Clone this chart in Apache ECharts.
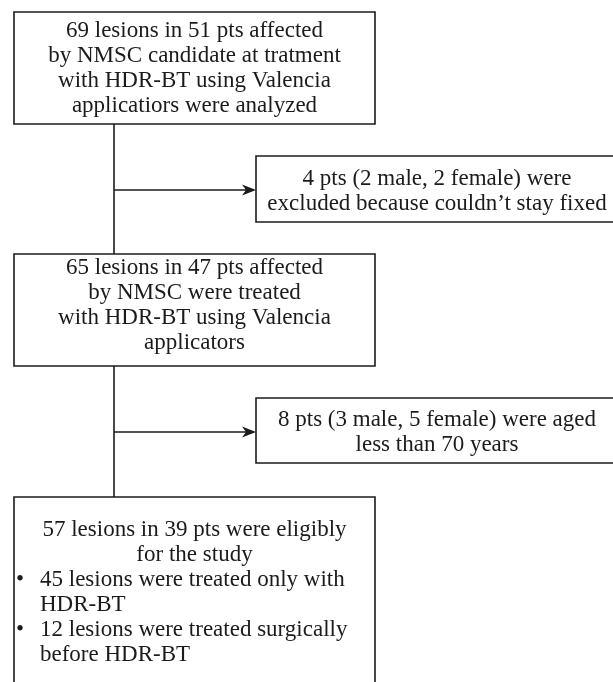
<!DOCTYPE html>
<html>
<head>
<meta charset="utf-8">
<script src="https://cdn.jsdelivr.net/npm/echarts@6/dist/echarts.min.js"></script>
<style>
  html, body { margin: 0; padding: 0; background: #fff; }
  #chart { width: 613px; height: 682px; }
</style>
</head>
<body>
<div id="chart"></div>
<script>
// texts of the flow boxes
const startLines = ['69 lesions in 51 pts affected', 'by NMSC candidate at tratment', 'with HDR-BT using Valencia', 'applicatiors were analyzed'];
const excludedFixLines = ['4 pts (2 male, 2 female) were', 'excluded because couldn\u2019t stay fixed'];
const treatedLines = ['65 lesions in 47 pts affected', 'by NMSC were treated', 'with HDR-BT using Valencia', 'applicators'];
const excludedAgeLines = ['8 pts (3 male, 5 female) were aged', 'less than 70 years'];
const eligibleLines = ['57 lesions in 39 pts were eligibly', 'for the study'];
const eligibleBullets = [
  ['45 lesions were treated only with', 'HDR-BT'],
  ['12 lesions were treated surgically', 'before HDR-BT']
];

const FONT = '23px "Liberation Serif", "DejaVu Serif", serif';
const INK = '#1b1b1b';
const LH = 25;      // line spacing
const MID = 7.5;    // baseline -> middle offset

var chart = echarts.init(document.getElementById('chart'));
var els = [];

function box(x, y, w, h) {
  els.push({
    type: 'rect',
    shape: { x: x, y: y, width: w, height: h },
    style: { fill: '#fff', stroke: INK, lineWidth: 1.6 }
  });
}
function textLine(str, x, baseline, align) {
  els.push({
    type: 'text',
    x: x, y: baseline - MID,
    style: {
      text: str, font: FONT, fill: INK,
      align: align, verticalAlign: 'middle',
      textAlign: align, textVerticalAlign: 'middle'
    }
  });
}
function centered(lines, cx, firstBaseline) {
  lines.forEach(function (s, i) { textLine(s, cx, firstBaseline + i * LH, 'center'); });
}
function vline(x, y1, y2) {
  els.push({ type: 'line', shape: { x1: x, y1: y1, x2: x, y2: y2 }, style: { stroke: INK, lineWidth: 1.6 } });
}
function arrow(x1, x2, y) {
  els.push({ type: 'line', shape: { x1: x1, y1: y, x2: x2 - 6, y2: y }, style: { stroke: INK, lineWidth: 1.6 } });
  els.push({
    type: 'polygon',
    shape: { points: [[x2, y], [x2 - 14, y - 5.5], [x2 - 10, y], [x2 - 14, y + 5.5]] },
    style: { fill: INK }
  });
}

// main column
var mx = 14, mw = 361, cx = mx + mw / 2, trunk = 114;
// side column
var sx = 256, sw = 362, scx = sx + sw / 2;

vline(trunk, 124, 254);
vline(trunk, 366, 497);
arrow(trunk, sx, 190);
arrow(trunk, sx, 432);

box(mx, 12, mw, 112);
centered(startLines, cx, 38);

box(sx, 156, sw, 66);
centered(excludedFixLines, scx, 186);

box(mx, 254, mw, 112);
centered(treatedLines, cx, 275);

box(sx, 398, sw, 65);
centered(excludedAgeLines, scx, 427);

box(mx, 497, mw, 220);
centered(eligibleLines, cx, 537);
var b = 537 + 2 * LH;
eligibleBullets.forEach(function (item) {
  textLine('\u2022', 16, b, 'left');
  item.forEach(function (s) { textLine(s, 40, b, 'left'); b += LH; });
});

chart.setOption({
  animation: false,
  graphic: { elements: els }
});
</script>
</body>
</html>
